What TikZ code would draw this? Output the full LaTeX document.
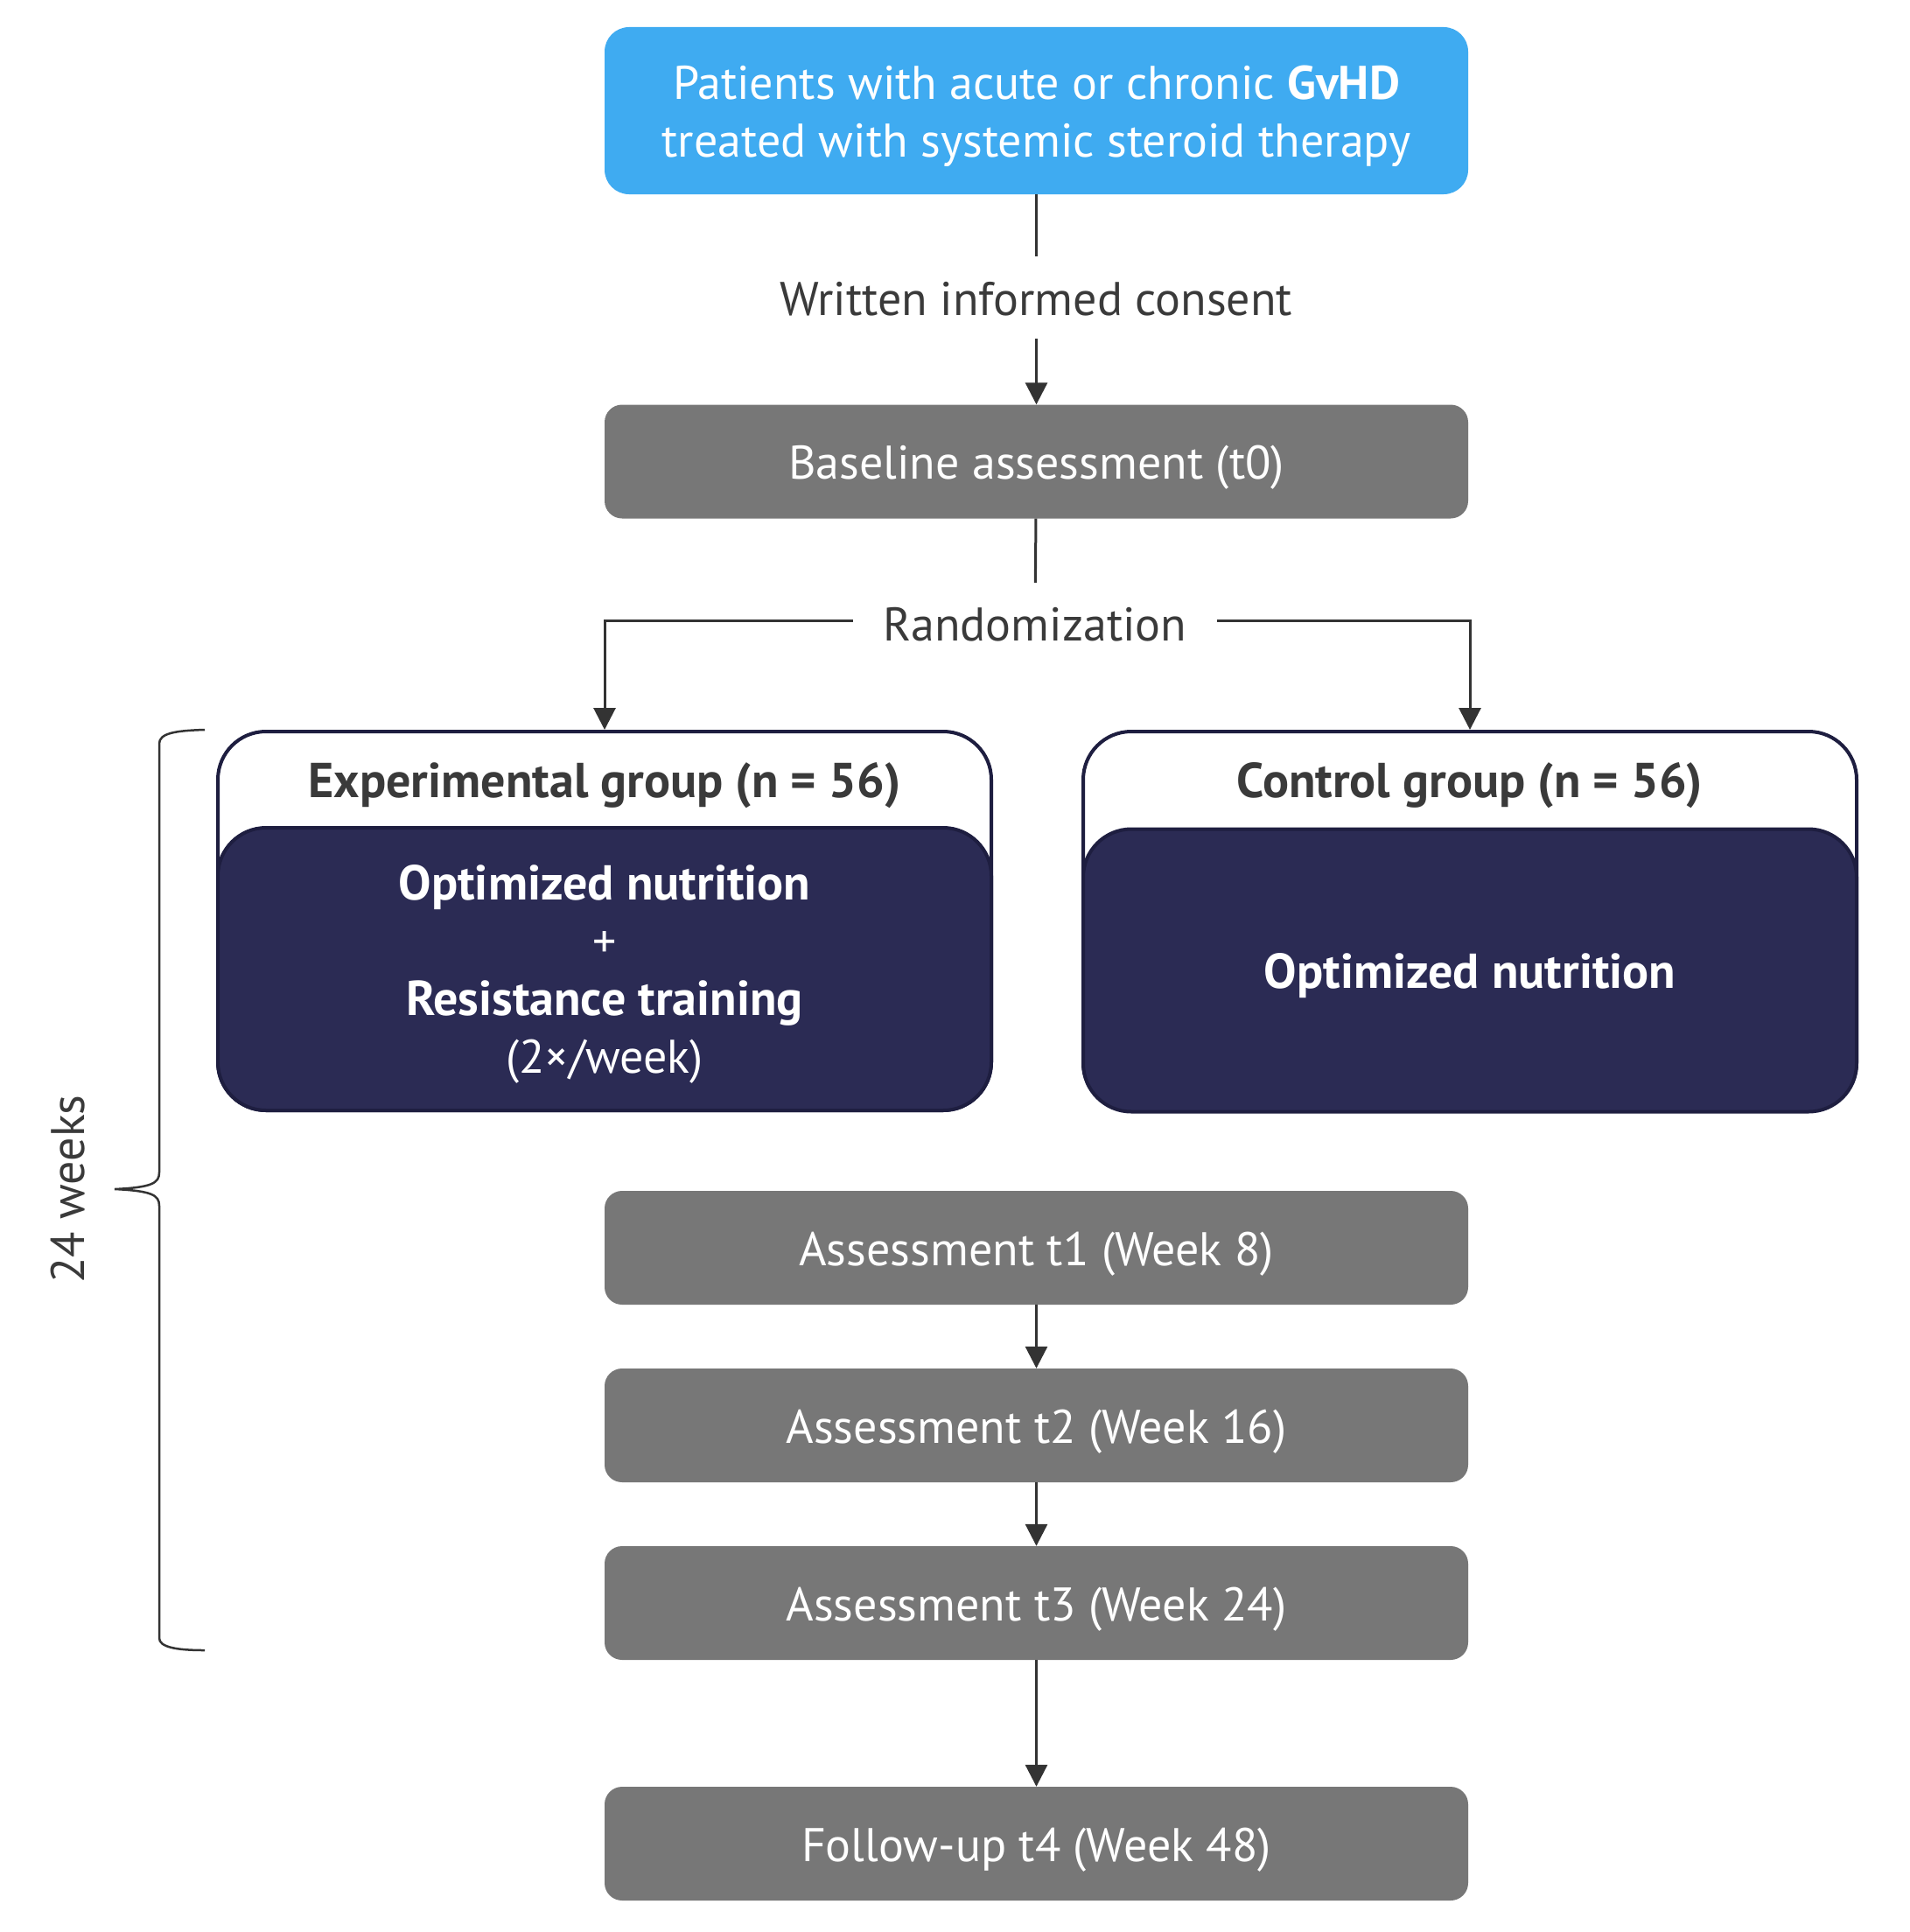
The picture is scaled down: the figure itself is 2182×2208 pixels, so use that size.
\documentclass[tikz,border=0pt]{standalone}
\usepackage{fontspec}
\setmainfont{PT Sans}
\usetikzlibrary{arrows.meta}
\definecolor{cblue}{HTML}{3FABF1}
\definecolor{cgray}{HTML}{777777}
\definecolor{cnavy}{HTML}{2B2B54}
\definecolor{cborder}{HTML}{1E1E40}
\definecolor{ctext}{HTML}{3A3A3A}
\definecolor{cline}{HTML}{333333}
\newcommand\grpbold[1]{{\fontsize{56}{66}\selectfont\bfseries #1}}
\begin{document}
\begin{tikzpicture}[x=1pt,y=-1pt,
  font=\fontsize{54}{66}\selectfont,
  onel/.style={text height=51pt, text depth=11pt},
  graybox/.style={onel, fill=cgray, rounded corners=20pt, minimum width=987pt, minimum height=130pt, text=white, inner sep=0pt},
  conn/.style={draw=cline, line width=3pt},
  arr/.style={conn, -{Triangle[width=25pt,length=25pt]}},
  lbl/.style={text=ctext, inner sep=0pt},
  grouphead/.style={lbl, onel, font=\fontsize{56}{66}\selectfont\bfseries},
  groupframe/.style={draw=cborder, line width=4pt, fill=white, rounded corners=55pt, minimum width=884pt, minimum height=433pt, inner sep=0pt},
  groupbody/.style={draw=cborder, line width=4pt, fill=cnavy, rounded corners=55pt, minimum width=884pt, minimum height=323pt, text=white, align=center, inner sep=0pt},
  ]
\useasboundingbox[fill=white] (0,0) rectangle (2182,2208);

\node[fill=cblue, rounded corners=28pt, minimum width=987pt, minimum height=191pt, text=white, align=center, inner sep=0pt] (pat) at (1184.5,126.5) {\rule{0pt}{0.95em}Patients with acute or chronic \textbf{GvHD}\\treated with systemic steroid therapy};
\node[lbl, onel, minimum height=94pt] (consent) at (1184.5,340) {Written informed consent};
\node[graybox] (base) at (1184.5,527.5) {Baseline assessment (t0)};
\node[lbl, text height=58pt, text depth=11pt, minimum width=416pt, minimum height=86pt] (rand) at (1183,709) {Randomization};

\node[groupframe] (exp) at (691,1052.5) {};
\node[groupbody] (expbody) at (691,1107.5) {\rule{0pt}{0.95em}\grpbold{Optimized nutrition}\\+\\\grpbold{Resistance training}\\(2×/week)};
\node[grouphead] (exphead) at (691,891) {Experimental group (n = 56)};

\node[groupframe] (ctrl) at (1680,1052.5) {};
\node[groupbody, onel] (ctrlbody) at (1680,1109) {\grpbold{Optimized nutrition}};
\node[grouphead] (ctrlhead) at (1680,891) {Control group (n = 56)};

\node[graybox] (a1) at (1184.5,1426) {Assessment t1 (Week 8)};
\node[graybox] (a2) at (1184.5,1629) {Assessment t2 (Week 16)};
\node[graybox] (a3) at (1184.5,1832) {Assessment t3 (Week 24)};
\node[graybox] (fu) at (1184.5,2107) {Follow-up t4 (Week 48)};

\draw[conn] (pat) -- (consent);
\draw[arr] (consent) -- (base);
\draw[conn] (base) -- (rand);
\draw[arr] (rand.west) -| (exp.north);
\draw[arr] (rand.east) -| (ctrl.north);
\draw[arr] (a1) -- (a2);
\draw[arr] (a2) -- (a3);
\draw[arr] (a3) -- (fu);

\draw[draw=cline, line width=2.5pt] (234,834) .. controls (200,835) and (182,838) .. (182,850) -- (182,1340) .. controls (182,1352) and (174,1357) .. (131,1359) .. controls (174,1361) and (182,1366) .. (182,1378) -- (182,1872) .. controls (182,1882) and (200,1886) .. (234,1886);
\node[lbl, rotate=90] (weeks) at (78,1359) {24 weeks};
\end{tikzpicture}
\end{document}
